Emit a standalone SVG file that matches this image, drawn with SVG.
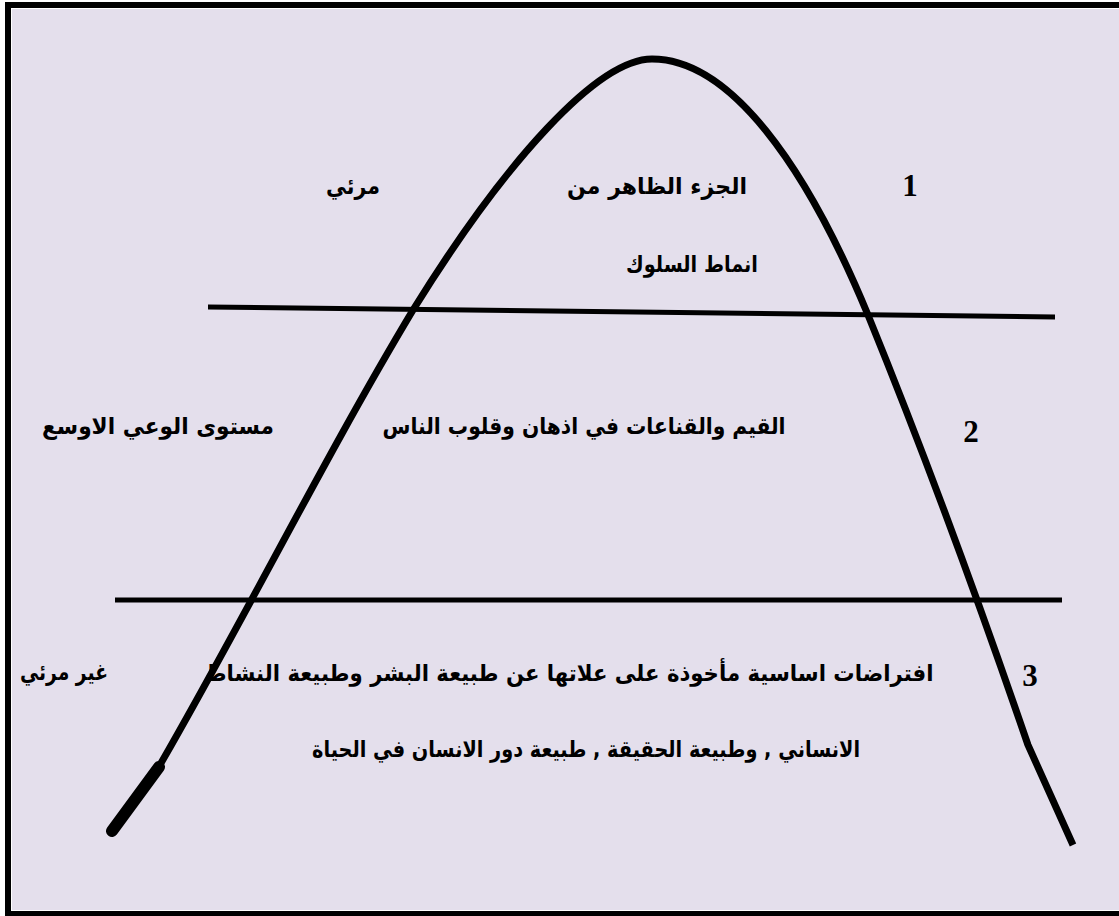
<svg xmlns="http://www.w3.org/2000/svg" width="1119" height="916" viewBox="0 0 1119 916">
<style>
.ar{font-family:"DejaVu Sans",sans-serif;font-weight:bold;font-size:23px;fill:#000;text-anchor:middle;direction:rtl}
.num{font-family:"Liberation Serif",serif;font-weight:bold;font-size:31px;fill:#000;text-anchor:middle}
.stroke{fill:none;stroke:#000}
</style>
<g id="frame">
<rect x="0" y="0" width="1119" height="916" fill="#fff"/>
<rect x="5" y="2" width="1114" height="914" fill="#000"/>
<rect x="11" y="8" width="1108" height="903" fill="#fff"/>
<rect x="12" y="9" width="1107" height="901" fill="#E4DFEC"/>
</g>
<g id="curve">
<path class="stroke" stroke-width="7" d="M157 770 C244 620 323 460 413 310 C506 160 598 59 652 59 C730 59 806 165 868 315 C925 455 980 605 1028 745 L1073 845"/>
<line class="stroke" x1="159" y1="767" x2="112" y2="831" stroke-width="12" stroke-linecap="round"/>
</g>
<g id="dividers">
<line class="stroke" x1="208" y1="307" x2="1055" y2="317" stroke-width="5"/>
<line class="stroke" x1="115" y1="600" x2="1062" y2="600" stroke-width="5"/>
</g>
<g id="level1">
<text class="ar" x="657" y="194" textLength="180" lengthAdjust="spacingAndGlyphs">الجزء الظاهر من</text>
<text class="ar" x="353" y="194" textLength="54" lengthAdjust="spacingAndGlyphs">مرئي</text>
<text class="ar" x="692" y="272" textLength="132" lengthAdjust="spacingAndGlyphs">انماط السلوك</text>
<text class="num" x="910" y="196">1</text>
</g>
<g id="level2">
<text class="ar" x="584" y="434" textLength="403" lengthAdjust="spacingAndGlyphs">القيم والقناعات في اذهان وقلوب الناس</text>
<text class="ar" x="158" y="434" textLength="232" lengthAdjust="spacingAndGlyphs">مستوى الوعي الاوسع</text>
<text class="num" x="971" y="442">2</text>
</g>
<g id="level3">
<text class="ar" x="569" y="681" textLength="729" lengthAdjust="spacingAndGlyphs">افتراضات اساسية مأخوذة على علاتها عن طبيعة البشر وطبيعة النشاط</text>
<text class="ar" x="64" y="680" textLength="88" lengthAdjust="spacingAndGlyphs">غير مرئي</text>
<text class="ar" x="586" y="757" textLength="548" lengthAdjust="spacingAndGlyphs">الانساني , وطبيعة الحقيقة , طبيعة دور الانسان في الحياة</text>
<text class="num" x="1030" y="686">3</text>
</g>
</svg>
